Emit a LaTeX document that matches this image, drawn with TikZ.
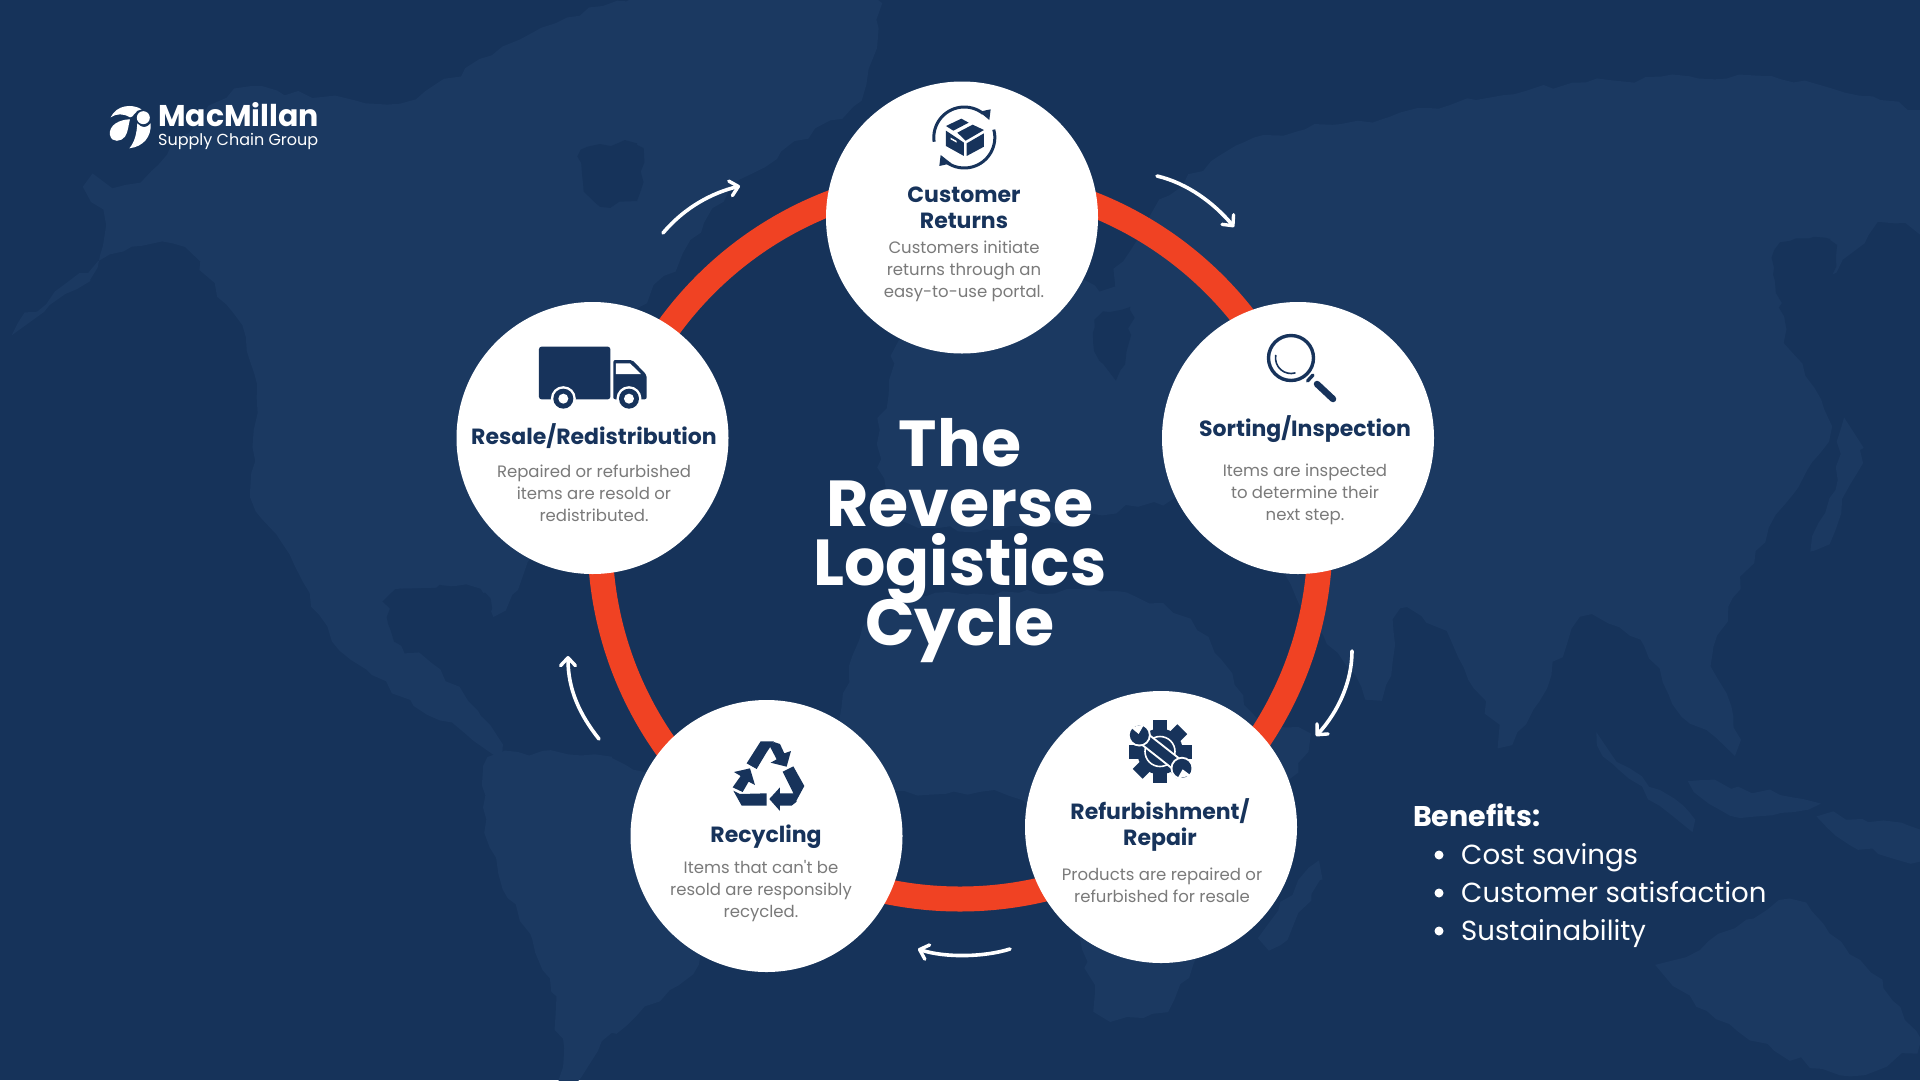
\documentclass[tikz,border=0pt]{standalone}
\usepackage{fontspec}
\setmainfont{Poppins}
\usepackage{tikz}
\usetikzlibrary{arrows.meta,positioning,decorations.pathmorphing}

\definecolor{bgnavy}{HTML}{16335A}
\definecolor{landnavy}{HTML}{1B3961}
\definecolor{inknavy}{HTML}{17335B}
\definecolor{ringred}{HTML}{F04223}
\definecolor{notegray}{HTML}{7A7A7A}

\newcommand{\tightlines}{\setlength{\lineskiplimit}{-100pt}}

\tikzset{
  stepdisc/.style={circle, fill=white, minimum size=272pt, inner sep=0pt},
  steptitle/.style={inner sep=0pt, align=center, text=inknavy, font=\fontsize{22}{26}\selectfont\bfseries},
  stepnote/.style={inner sep=0pt, align=center, text=notegray, font=\fontsize{16.5}{22}\selectfont},
  loopmark/.style={draw=white, line width=3.6pt, line cap=round, -{Straight Barb[length=8pt,width=15pt,line width=3.4pt,round]}},
  benefit/.style={inner sep=0pt, anchor=base west, text=white, font=\fontsize{27.6}{32}\selectfont},
  iconscope/.style={shift={#1}, x=0.3333pt, y=-0.3333pt},
  mapland/.style={fill=landnavy, decorate, decoration={random steps, segment length=13pt, amplitude=4pt}},
  mapsea/.style={fill=bgnavy, decorate, decoration={random steps, segment length=9pt, amplitude=3pt}},
}

\begin{document}
\begin{tikzpicture}[x=1pt,y=-1pt]

  \useasboundingbox (0,0) rectangle (1920,1080);
  \fill[bgnavy] (0,0) rectangle (1920,1080);
  \pgfmathsetseed{4242}

  \begin{scope}
  \clip (0,0) rectangle (1920,1080);

  % World map - Americas
  \path[mapland] plot[smooth cycle, tension=0.3] coordinates {(18,323) (90,280) (105,225) (85,186) (140,180) (235,90) (400,103) (520,40) (640,-5) (870,-5) (860,100) (740,180) (680,260) (600,360) (540,540) (505,610) (480,590) (395,590) (400,640) (440,670) (502,745) (440,720) (340,650) (294,565) (251,496) (257,413) (245,337) (184,248) (110,255)};
  \path[mapland] plot[smooth cycle, tension=0.3] coordinates {(490,758) (612,758) (716,833) (698,964) (612,1033) (570,1090) (551,992) (490,847)};

  % World map - Eurasia
  \path[mapland] plot[smooth cycle, tension=0.25] coordinates {(880,430) (900,340) (960,300) (1030,240) (1100,290) (1160,200) (1254,138) (1389,117) (1572,83) (1756,76) (1930,117) (1930,227) (1878,225) (1787,331) (1830,427) (1756,551) (1713,654) (1740,740) (1682,716) (1640,640) (1580,620) (1511,744) (1450,640) (1400,610) (1380,700) (1310,620) (1270,560) (1190,500) (1000,530) (890,520)};

  % World map - Africa
  \path[mapland] plot[smooth cycle, tension=0.3] coordinates {(860,640) (900,600) (1100,590) (1190,620) (1260,720) (1309,737) (1266,826) (1174,999) (1107,1019) (1082,950) (1020,800) (890,790) (840,720)};

  % World map - smaller land
  \path[mapland] plot[smooth cycle, tension=0.3] coordinates {(1665,975) (1700,950) (1790,900) (1860,960) (1920,1040) (1850,1075) (1750,1040)};
  \path[mapland] plot[smooth cycle, tension=0.3] coordinates {(1597,745) (1660,790) (1695,820) (1660,805)};
  \path[mapland] plot[smooth cycle, tension=0.3] coordinates {(1690,780) (1780,795) (1820,805) (1730,815)};
  \path[mapland] plot[smooth cycle, tension=0.3] coordinates {(1820,815) (1920,830) (1920,860) (1850,845)};
  \path[mapland] plot[smooth cycle, tension=0.3] coordinates {(1309,868) (1320,880) (1280,945) (1262,935)};
  \path[mapland] plot[smooth cycle, tension=0.3] coordinates {(1842,427) (1860,450) (1835,530) (1810,550) (1835,490)};

  % World map - seas
  \path[mapsea] plot[smooth cycle, tension=0.4] coordinates {(582,150) (637,145) (640,190) (610,207) (585,190)};
  \path[mapsea] plot[smooth cycle, tension=0.4] coordinates {(392,600) (440,585) (490,600) (480,650) (430,655) (395,640)};
  \path[mapsea] plot[smooth cycle, tension=0.4] coordinates {(1095,320) (1130,310) (1120,370) (1100,360)};
  \path[mapsea] plot[smooth cycle, tension=0.4] coordinates {(900,550) (1000,545) (1190,565) (1180,590) (1000,585) (900,590)};
  \path[mapsea] plot[smooth cycle, tension=0.4] coordinates {(1205,610) (1220,605) (1250,660) (1245,670)};
  \path[mapsea] plot[smooth cycle, tension=0.4] coordinates {(1775,250) (1830,240) (1830,310) (1790,335)};
  \end{scope}

  % Logo
  \begin{scope}[iconscope={(80,80)}]
    \fill[white] (92,112) .. controls (110,75) and (155,70) .. (185,88) .. controls (165,88) and (160,115) .. (150,112) .. controls (130,100) and (110,100) .. (92,112) -- cycle;
    \fill[white] (150,118) .. controls (120,118) and (85,135) .. (90,165) .. controls (95,190) and (125,185) .. (135,170) .. controls (145,155) and (145,135) .. (150,118) -- cycle;
    \fill[white] (172,130) .. controls (170,160) and (165,185) .. (148,205) .. controls (190,200) and (215,170) .. (212,130) .. controls (200,145) and (185,145) .. (172,130) -- cycle;
    \fill[white] (190,113) circle (6.5pt);
  \end{scope}
  \node[inner sep=0pt, anchor=base west, text=white, text depth=0pt, font=\fontsize{30}{32}\selectfont\bfseries] (brand) at (158,126.5) {MacMillan};
  \node[inner sep=0pt, anchor=base west, text=white, text height=12pt, font=\fontsize{16}{20}\selectfont] (brandsub) at (158,145) {Supply Chain Group};

  % Ring behind the steps
  \draw[ringred, line width=25pt] (960,539) circle (360pt);

  % Steps
  \node[stepdisc] (returns) at (962,217.5) {};
  \node[stepdisc] (sorting) at (1298,438) {};
  \node[stepdisc] (refurb) at (1161,827) {};
  \node[stepdisc] (recycle) at (766.5,836) {};
  \node[stepdisc] (resale) at (592.5,438) {};

  % Step texts
  \node[steptitle] (returnstitle) at (964,208) {Customer\\Returns};
  \node[stepnote] (returnsnote) at (964,271) {Customers initiate\\returns through an\\easy-to-use portal.};
  \node[steptitle] (sortingtitle) at (1305,429) {Sorting/Inspection};
  \node[stepnote] (sortingnote) at (1305,494.5) {Items are inspected\\to determine their\\next step.};
  \node[steptitle] (refurbtitle) at (1160,825) {Refurbishment/\\Repair};
  \node[stepnote] (refurbnote) at (1162,885) {Products are repaired or\\refurbished for resale};
  \node[steptitle] (recycletitle) at (766,836.5) {Recycling};
  \node[stepnote] (recyclenote) at (761,891) {Items that can\textquotesingle t be\\resold are responsibly\\recycled.};
  \node[steptitle] (resaletitle) at (594,436) {Resale/Redistribution};
  \node[stepnote] (resalenote) at (594,493.5) {Repaired or refurbished\\items are resold or\\redistributed.};

  % Box icon
  \coordinate (boxmid) at (964.3,137.5);
  \draw[inknavy, line width=3pt] ([shift={(188:30.5pt)}]boxmid) arc[start angle=188, end angle=52, radius=30.5pt];
  \draw[inknavy, line width=3pt] ([shift={(15:30.5pt)}]boxmid) arc[start angle=15, end angle=-125, radius=30.5pt];
  \begin{scope}[iconscope={(820,70)}]
    \fill[inknavy] (512,118) -- (508,150) -- (478,125) -- cycle;
    \fill[inknavy] (358,288) -- (362,255) -- (394,280) -- cycle;
    \fill[inknavy] (378,168) -- (424,146) -- (446,158) -- (400,182) -- cycle;
    \fill[inknavy] (412,188) -- (458,164) -- (492,180) -- (437,212) -- cycle;
    \fill[inknavy] (378,182) -- (432,218) -- (432,258) -- (378,228) -- cycle;
    \fill[inknavy] (440,220) -- (492,190) -- (492,230) -- (440,258) -- cycle;
    \fill[white] (392,203) -- (410,213) -- (410,218) -- (392,208) -- cycle;
  \end{scope}

  % Magnifier icon
  \coordinate (lensmid) at (1291,358);
  \draw[inknavy, line width=3.4pt] (lensmid) circle (22.5pt);
  \draw[inknavy, line width=1.6pt, line cap=round] ([shift={(170:15.5pt)}]lensmid) arc[start angle=170, end angle=285, radius=15.5pt];
  \draw[inknavy, line width=3.4pt, line cap=round] (1307.5,381) -- (1313,375);
  \draw[inknavy, line width=6.5pt, line cap=round] (1317,384) -- (1333,399);

  % Gear and wrench icon
  \coordinate (gearmid) at (1160,751.5);
  \foreach \ang in {0,45,...,315} {
    \fill[inknavy, rotate around={\ang:(gearmid)}] (1153,720) rectangle (1167,735);
  }
  \fill[inknavy] (gearmid) circle (23pt);
  \draw[white, line width=1.6pt] (gearmid) circle (15pt);
  \begin{scope}[iconscope={(1020,690)}]
    \draw[white, line width=14pt] (352,130) -- (492,240);
    \draw[inknavy, line width=10pt] (352,130) -- (492,240);
    \fill[white] (358,135) circle (11.5pt);
    \fill[white] (486,235) circle (11.5pt);
    \fill[inknavy] (358,135) circle (9.5pt);
    \fill[inknavy] (486,235) circle (9.5pt);
    \fill[white] (332,112) -- (356,132) -- (372,104) -- cycle;
    \fill[white] (512,256) -- (488,238) -- (472,266) -- cycle;
  \end{scope}

  % Recycling icon
  \begin{scope}[iconscope={(630,700)}]
    \fill[inknavy] (350,190) -- (392,124) -- (432,124) -- (408,160) -- (380,207) -- cycle;
    \fill[inknavy] (418,136) -- (432,126) -- (450,132) -- (463,160) -- (483,153) -- (470,200) -- (422,188) -- (440,178) -- cycle;
    \fill[inknavy] (458,215) -- (490,199) -- (523,258) -- (497,306) -- (488,275) -- cycle;
    \fill[inknavy] (418,297) -- (450,262) -- (450,280) -- (490,280) -- (500,305) -- (485,317) -- (450,317) -- (450,333) -- cycle;
    \fill[inknavy] (410,280) -- (410,317) -- (335,317) -- (310,272) -- (330,282) -- cycle;
    \fill[inknavy] (312,216) -- (360,205) -- (375,255) -- (356,245) -- (338,276) -- (308,262) -- (332,228) -- cycle;
  \end{scope}

  % Truck icon
  \begin{scope}[iconscope={(455,300)}]
    \fill[inknavy, rounded corners=2.5pt] (252,140) rectangle (466,298);
    \fill[inknavy, rounded corners=2pt] (475,180) -- (532,180) -- (575,225) -- (575,298) -- (475,298) -- cycle;
    \fill[white] (483,190) -- (525,190) -- (558,222) -- (483,222) -- cycle;
    \foreach \wheelx in {325,522} {
      \fill[white] (\wheelx,296) circle (12.5pt);
      \fill[inknavy] (\wheelx,296) circle (10pt);
      \fill[white] (\wheelx,296) circle (5pt);
    }
  \end{scope}

  % Arrows round the ring
  \coordinate (markAfrom) at (663,233);
  \coordinate (markAto) at (740,186);
  \coordinate (markBfrom) at (1157,176);
  \coordinate (markBto) at (1234,227);
  \coordinate (markCfrom) at (1352,651);
  \coordinate (markCto) at (1316,736);
  \coordinate (markDfrom) at (1010,949);
  \coordinate (markDto) at (918,949);
  \coordinate (markEfrom) at (599,739);
  \coordinate (markEto) at (568,656);
  \draw[loopmark] (markAfrom) .. controls (685,207) and (712,193) .. (markAto);
  \draw[loopmark] (markBfrom) .. controls (1187,183) and (1214,203) .. (markBto);
  \draw[loopmark] (markCfrom) .. controls (1352,682) and (1338,712) .. (markCto);
  \draw[loopmark] (markDfrom) .. controls (985,957) and (945,958) .. (markDto);
  \draw[loopmark] (markEfrom) .. controls (580,715) and (568,690) .. (markEto);

  % Centre title
  \node[inner sep=0pt, align=center, text=white, font=\fontsize{65}{59.5}\selectfont\bfseries\tightlines] (cycletitle) at (960,540.5) {The\\Reverse\\Logistics\\Cycle};

  % Benefits list
  \node[benefit, font=\fontsize{28.5}{32}\selectfont\bfseries] (benefits) at (1413,826) {Benefits:};
  \node[benefit] (saving) at (1461,864) {Cost savings};
  \node[benefit] (satisfied) at (1461,902) {Customer satisfaction};
  \node[benefit] (sustain) at (1461,940) {Sustainability};
  \fill[white] (1439,855) circle (4.5pt);
  \fill[white] (1439,893) circle (4.5pt);
  \fill[white] (1439,931) circle (4.5pt);

\end{tikzpicture}
\end{document}
